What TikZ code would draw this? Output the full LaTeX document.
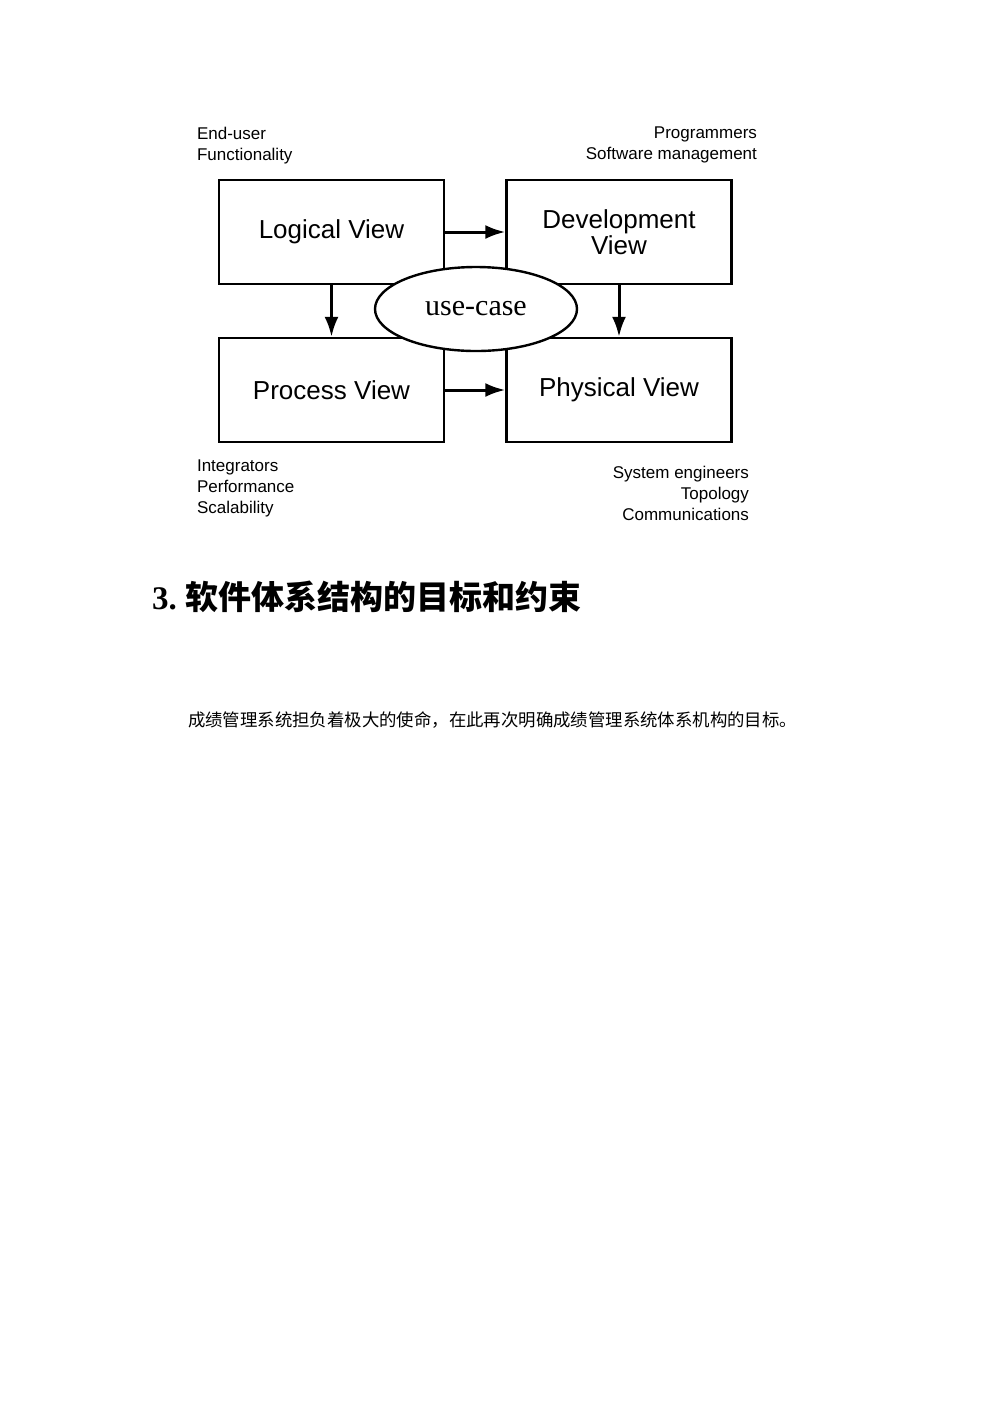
\documentclass[tikz,border=0pt]{standalone}
\usepackage{fontspec}
\setmainfont{Liberation Serif}
\newfontfamily\diagfont{Liberation Sans}
\newfontfamily\cjk{Noto Sans CJK SC}
\newfontfamily\cjkbold{Noto Sans CJK SC Bold}
\usetikzlibrary{shapes.geometric,arrows.meta}
\tikzset{
  view/.style={draw,line width=1.2pt,minimum width=112.5pt,minimum height=52pt,font=\diagfont\fontsize{13}{13}\selectfont,align=center},
  note/.style={font=\diagfont\fontsize{8.5}{10.5}\selectfont},
  flow/.style={-{Latex[length=10pt,width=7pt]},line width=1.5pt}
}
\begin{document}
\begin{tikzpicture}[x=0.5pt,y=-0.5pt]
\useasboundingbox (0,0) rectangle (1000,1415);
% Views:
\node[view] (logical) at (331.5,232) {Logical View};
\node[view] (devel) at (619,232) {Development\\View};
\node[view] (process) at (331.5,390) {Process View};
\node[view] (physical) at (619,390) {Physical View};
\draw[flow] (logical) -- (devel);
\draw[flow] (process) -- (physical);
\draw[flow] (logical) -- (process);
\draw[flow] (devel) -- (physical);
\node[ellipse,draw,fill=white,line width=1.2pt,minimum width=101pt,minimum height=42pt,font=\fontsize{15}{16}\selectfont] (usecase) at (476,309) {use-case};
% Notes:
\node[note,anchor=north west,align=left] (enduser) at (190,120) {End-user\\Functionality};
\node[note,anchor=north east,align=right] (prog) at (764,120) {Programmers\\Software management};
\node[note,anchor=north west,align=left] (integ) at (190,453) {Integrators\\Performance\\Scalability};
\node[note,anchor=north east,align=right] (syseng) at (756,459) {System engineers\\Topology\\Communications};
% Text:
\node[anchor=west,font=\bfseries\fontsize{16.5}{18}\selectfont] (heading) at (145,597) {3.~{\cjkbold 软件体系结构的目标和约束}};
\node[anchor=west,font=\cjk\fontsize{8.7}{10}\selectfont] (body) at (181,720) {成绩管理系统担负着极大的使命，在此再次明确成绩管理系统体系机构的目标。};
\end{tikzpicture}
\end{document}
